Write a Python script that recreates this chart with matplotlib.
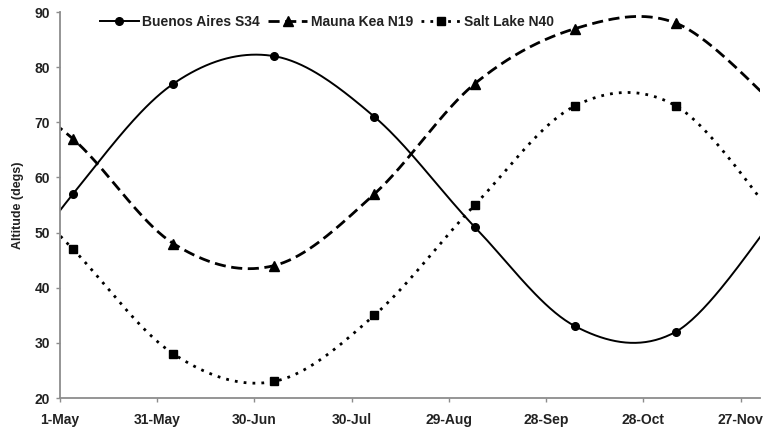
import numpy as np
import pandas as pd
import matplotlib
matplotlib.use("Agg")
import matplotlib.pyplot as plt
import matplotlib.dates as mdates

plt.rcParams['font.family'] = ['Liberation Sans', 'DejaVu Sans']
plt.rcParams['font.weight'] = 'bold'

# sample dates (first and last fall outside the visible axis range)
dates = ['2010-04-04', '2010-05-05', '2010-06-05', '2010-07-06', '2010-08-06',
         '2010-09-06', '2010-10-07', '2010-11-07', '2010-12-08']
buenos_aires = [32, 57, 77, 82, 71, 51, 33, 32, 53]
mauna_kea = [80, 67, 48, 44, 57, 77, 87, 88, 73]
salt_lake = [66, 47, 28, 23, 35, 55, 73, 73, 52.5]

names = ['Buenos Aires S34', 'Mauna Kea N19', 'Salt Lake N40']
x_start = '2010-05-01'
x_end = '2010-12-03'
tick_dates = pd.date_range(x_start, periods=8, freq='30D')
tick_labels = [d.strftime('%d-%b').lstrip('0') for d in tick_dates]

N = 40


def smooth(x, y, n=N):
    # Excel style smoothed line: cubic Bezier with Catmull-Rom control points
    x = np.asarray(x, float)
    y = np.asarray(y, float)
    pts = np.column_stack([x, y])
    out = []
    t = np.linspace(0, 1, n, endpoint=False)[:, None]
    for i in range(len(pts) - 1):
        p0 = pts[max(i - 1, 0)]
        p1 = pts[i]
        p2 = pts[i + 1]
        p3 = pts[min(i + 2, len(pts) - 1)]
        c1 = p1 + (p2 - p0) / 6
        c2 = p2 - (p3 - p1) / 6
        seg = ((1 - t) ** 3) * p1 + 3 * ((1 - t) ** 2) * t * c1 + 3 * (1 - t) * t ** 2 * c2 + t ** 3 * p2
        out.append(seg)
    out.append(pts[-1:])
    out = np.vstack(out)
    return out[:, 0], out[:, 1]


xnum = mdates.date2num(pd.to_datetime(dates))

fig = plt.figure(figsize=(7.65, 4.30), dpi=100)
ax = fig.add_axes([60 / 765, 1 - 398 / 430, 700 / 765, 386 / 430])

styles = [
    dict(linestyle='-', linewidth=1.4, marker='o', markersize=5.5),
    dict(linestyle=(0, (4, 2)), linewidth=2.0, marker='^', markersize=6.5),
    dict(linestyle=(0, (1, 2.2)), linewidth=2.0, marker='s', markersize=6),
]

for vals, name, st in zip([buenos_aires, mauna_kea, salt_lake], names, styles):
    sx, sy = smooth(xnum, vals)
    ax.plot(sx, sy, color='black', markevery=N, label=name, **st)

ax.set_xlim(mdates.date2num(pd.Timestamp(x_start)), mdates.date2num(pd.Timestamp(x_end)))
ax.set_ylim(20, 90)
ax.set_yticks(range(20, 91, 10))
ax.set_xticks(mdates.date2num(tick_dates))
ax.set_xticklabels(tick_labels)

for s in ['top', 'right']:
    ax.spines[s].set_visible(False)
for s in ['left', 'bottom']:
    ax.spines[s].set_color('#8c8c8c')
    ax.spines[s].set_linewidth(1.3)

ax.tick_params(axis='both', direction='out', length=3, width=1, color='#8c8c8c',
               labelsize=10, labelcolor='#222222')
ax.tick_params(axis='x', pad=8)
ax.tick_params(axis='y', pad=4)

ax.set_ylabel('Altitude (degs)', fontsize=9, fontweight='bold', color='#222222', labelpad=8)

ax.legend(loc='center left', bbox_to_anchor=(40 / 700, 1 - 10 / 386), ncol=3,
          frameon=False, fontsize=10, handlelength=2.8, handletextpad=0.25,
          columnspacing=0.6, borderpad=0, borderaxespad=0,
          labelcolor='#222222')

fig.savefig('out.png', dpi=100)
